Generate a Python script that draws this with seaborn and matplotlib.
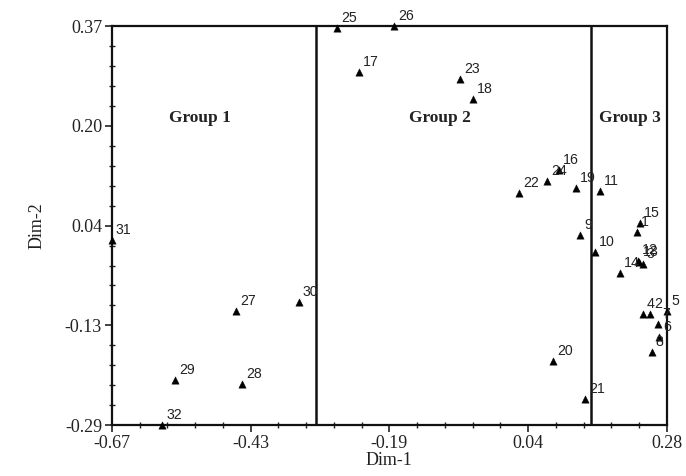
import numpy as np
import pandas as pd
import matplotlib
matplotlib.use("Agg")
import matplotlib.pyplot as plt
from matplotlib.ticker import FixedLocator, AutoMinorLocator
import seaborn as sns

# point ids and their coordinates
ids = [1, 2, 3, 4, 5, 6, 7, 8, 9, 10, 11, 12, 13, 14, 15, 16,
       17, 18, 19, 20, 21, 22, 23, 24, 25, 26, 27, 28, 29, 30, 31, 32]
dim1 = [0.229, 0.251, 0.239, 0.239, 0.280, 0.266, 0.265, 0.254, 0.131, 0.157,
        0.165, 0.231, 0.232, 0.200, 0.234, 0.095, -0.247, -0.052, 0.124, 0.085,
        0.140, 0.027, -0.074, 0.075, -0.285, -0.187, -0.458, -0.447, -0.562,
        -0.350, -0.670, -0.584]
dim2 = [0.029, -0.106, -0.024, -0.106, -0.101, -0.144, -0.123, -0.169, 0.024,
        -0.004, 0.097, -0.018, -0.020, -0.039, 0.044, 0.132, 0.294, 0.249,
        0.102, -0.184, -0.247, 0.094, 0.282, 0.114, 0.367, 0.370, -0.101,
        -0.222, -0.216, -0.087, 0.016, -0.290]

# group boundaries and labels
boundaries = [-0.321, 0.150]
group_names = ["Group 1", "Group 2", "Group 3"]
group_x = [-0.519, -0.108, 0.217]
group_y = [0.218, 0.218, 0.218]

x_ticklabels = ["-0.67", "-0.43", "-0.19", "0.04", "0.28"]
y_ticklabels = ["-0.29", "-0.13", "0.04", "0.20", "0.37"]

df = pd.DataFrame({"id": ids, "Dim-1": dim1, "Dim-2": dim2})

sns.set_style("ticks")
plt.rcParams["font.family"] = ["Liberation Serif", "DejaVu Serif"]

fig = plt.figure(figsize=(6.86, 4.76), dpi=100)
ax = fig.add_axes([0.163, 0.107, 0.809, 0.838])

sns.scatterplot(data=df, x="Dim-1", y="Dim-2", marker="^", s=28,
                color="black", edgecolor="black", linewidth=0.3,
                ax=ax, zorder=3, clip_on=False)

# point labels, small sans like the original
for pid, px, py in zip(ids, dim1, dim2):
    ax.annotate(str(pid), (px, py),
                xytext=(3, 4.5), textcoords="offset points",
                ha="left", va="baseline", fontsize=10.2,
                family=["Liberation Sans", "DejaVu Sans"],
                color="#222222")

for b in boundaries:
    ax.axvline(b, color="#111111", lw=1.8, zorder=2)

for name, gx, gy in zip(group_names, group_x, group_y):
    ax.text(gx, gy, name, ha="center", va="center", fontsize=12.5,
            fontweight="bold", color="#222222")

ax.set_xlim(-0.67, 0.28)
ax.set_ylim(-0.29, 0.37)
ax.xaxis.set_major_locator(FixedLocator(np.linspace(-0.67, 0.28, 5)))
ax.yaxis.set_major_locator(FixedLocator(np.linspace(-0.29, 0.37, 5)))
ax.set_xticklabels(x_ticklabels)
ax.set_yticklabels(y_ticklabels)
ax.xaxis.set_minor_locator(AutoMinorLocator(5))
ax.yaxis.set_minor_locator(AutoMinorLocator(5))
ax.tick_params(which="major", direction="out", length=5, width=1.2,
               labelsize=13, colors="#222222", pad=2)
ax.tick_params(which="minor", direction="inout", length=4, width=1.0,
               colors="#222222")

for side in ["left", "bottom", "top", "right"]:
    ax.spines[side].set_visible(True)
    ax.spines[side].set_linewidth(1.6)
    ax.spines[side].set_color("#111111")

ax.set_xlabel("Dim-1", fontsize=13, labelpad=0, color="#222222")
ax.set_ylabel("Dim-2", fontsize=13, labelpad=14, color="#222222")

fig.savefig("out.png", dpi=100)
